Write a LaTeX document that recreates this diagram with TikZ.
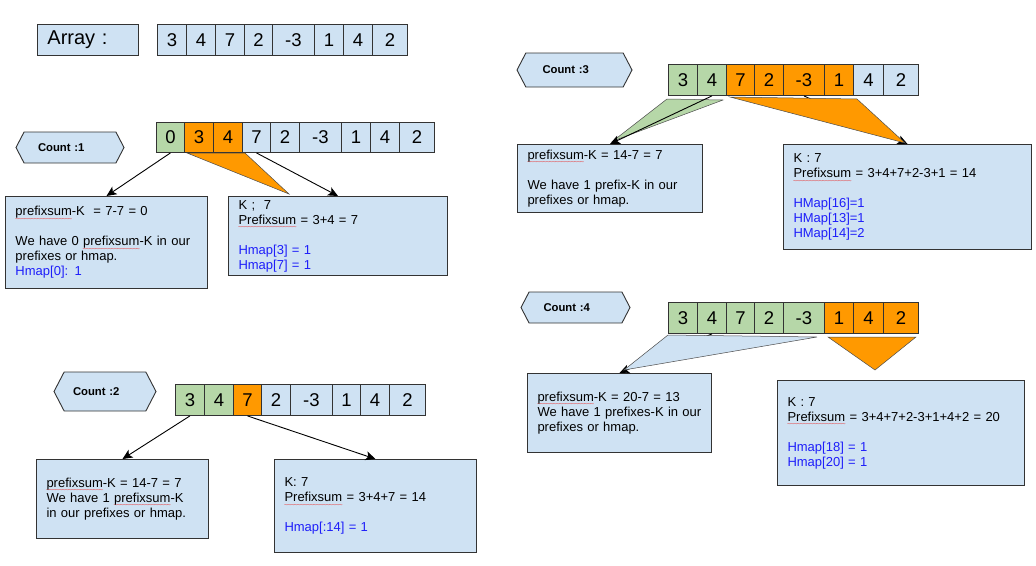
\documentclass[tikz,border=0pt]{standalone}
\usepackage{fontspec}
\setmainfont{Liberation Sans}
\usetikzlibrary{shapes.symbols,arrows.meta,calc}
\definecolor{cellBlue}{RGB}{207,226,243}
\definecolor{cellGreen}{RGB}{182,215,168}
\definecolor{cellOrange}{RGB}{255,153,0}
\definecolor{mapBlue}{RGB}{30,30,250}
\definecolor{wavyRed}{RGB}{230,70,70}
\newcommand{\spellmark}[1]{\leavevmode\setbox0=\hbox{#1}\rlap{\lower5.5pt\hbox to\wd0{\color{wavyRed}%
  \fontsize{7}{7}\selectfont\xleaders\hbox{\kern-0.5pt\char"7E\kern-0.5pt}\hfill}}\box0\relax}
\newcommand{\hmap}[1]{\textcolor{mapBlue}{#1}}
\tikzset{
  cell/.style={draw=black!80,line width=0.9pt,minimum height=31pt,minimum width=#1,
               inner sep=0pt,anchor=north west,font=\fontsize{18.5}{20}\selectfont},
  infobox/.style={draw=black!80,fill=cellBlue,line width=1pt,anchor=north west,
               align=left,inner xsep=10pt,inner ysep=0pt,font=\fontsize{13}{15}\selectfont},
  counthex/.style={signal,signal to=west and east,signal pointer angle=125,
               draw=black!80,fill=cellBlue,line width=0.9pt,text width=64pt,align=left,
               inner sep=0pt,font=\fontsize{11.3}{13}\selectfont\bfseries},
  arr/.style={-{Stealth[length=10pt,width=9pt,inset=2.5pt]},black,line width=0.9pt},
  wedge/.style={draw=black!70,line width=0.5pt},
}

\begin{document}
\begin{tikzpicture}[x=1pt,y=-1pt]
\useasboundingbox (0,0) rectangle (1036,565);

% input array
\node[cell=101pt,fill=cellBlue,font=\fontsize{20}{22}\selectfont,
      text width=81pt,align=left,inner xsep=10pt] (arrlbl) at (37,24) {Array :};
\foreach \x/\w/\v [count=\i] in {157/29/3,186/29/4,215/29/7,244/28/2,272/42/-3,
                                 314/29/1,343/29/4,372/35/2}
  \node[cell=\w pt,fill=cellBlue] (arr\i) at (\x,24) {\v};

% count 1
\node[counthex,minimum width=108pt,minimum height=31pt] (cnt1) at (70,147.5) {Count :1};
\foreach \x/\w/\v/\c [count=\i] in {156/28/0/cellGreen,184/29/3/cellOrange,213/29/4/cellOrange,
                                    242/28/7/cellBlue,270/29/2/cellBlue,299/42/-3/cellBlue,
                                    341/29/1/cellBlue,370/29/4/cellBlue,399/35/2/cellBlue}
  \node[cell=\w pt,fill=\c,minimum height=30pt] (one\i) at (\x,122) {\v};
\filldraw[wedge,fill=cellOrange] (187,153) -- (245,153) -- (289,194) -- cycle;
\node[infobox,minimum height=92pt,text width=182pt] (oneL) at (5,196)
  {\spellmark{prefixsum}-K\ \ = 7-7 = 0\\[15pt]
   We have 0 \spellmark{prefixsum}-K in our\\prefixes or hmap.\\
   \hmap{Hmap[0]: 1}};
\node[infobox,minimum height=79pt,text width=199pt] (oneR) at (228,196)
  {K ;\ \ 7\\\spellmark{Prefixsum} = 3+4 = 7\\[15pt]
   \hmap{Hmap[3] = 1}\\\hmap{Hmap[7] = 1}};
\draw[arr] (one1.south) -- (oneL.north);
\draw[arr] (one4.south) -- (oneR.north);

% count 2
\node[counthex,minimum width=102pt,minimum height=39pt] (cnt2) at (105,391.5) {Count :2};
\foreach \x/\w/\v/\c [count=\i] in {175/29/3/cellGreen,204/29/4/cellGreen,233/28/7/cellOrange,
                                    261/29/2/cellBlue,290/42/-3/cellBlue,332/28/1/cellBlue,
                                    360/29/4/cellBlue,389/36/2/cellBlue}
  \node[cell=\w pt,fill=\c] (two\i) at (\x,384) {\v};
\node[infobox,minimum height=79pt,text width=152pt] (twoL) at (36,459)
  {\spellmark{prefixsum}-K = 14-7 = 7\\We have 1 \spellmark{prefixsum}-K\\in our prefixes or hmap.};
\node[infobox,minimum height=93pt,text width=182pt] (twoR) at (274,459)
  {K: 7\\\spellmark{Prefixsum} = 3+4+7 = 14\\[15pt]\hmap{Hmap[:14] = 1}};
\draw[arr] (two1.south) -- (twoL.north);
\draw[arr] (two3.south) -- (twoR.north);

% count 3
\node[counthex,minimum width=115pt,minimum height=34pt] (cnt3) at (574.5,70) {Count :3};
\foreach \x/\w/\v/\c [count=\i] in {668/29/3/cellGreen,697/29/4/cellGreen,726/28/7/cellOrange,
                                    754/29/2/cellOrange,783/41/-3/cellOrange,824/29/1/cellOrange,
                                    853/30/4/cellBlue,883/35/2/cellBlue}
  \node[cell=\w pt,fill=\c] (three\i) at (\x,64) {\v};
\node[infobox,minimum height=68pt,text width=165pt] (threeL) at (517,144)
  {\spellmark{prefixsum}-K = 14-7 = 7\\[15pt]We have 1 prefix-K in our\\prefixes or hmap.};
\node[infobox,minimum height=105pt,text width=228pt] (threeR) at (783,144)
  {K : 7\\\spellmark{Prefixsum} = 3+4+7+2-3+1 = 14\\[15pt]
   \hmap{HMap[16]=1}\\\hmap{HMap[13]=1}\\\hmap{HMap[14]=2}};
\draw[arr] (three5.south) -- (threeR.north);
\filldraw[wedge,fill=cellOrange] (730,97) -- (857,99) -- (905,143) -- cycle;
\filldraw[wedge,fill=cellGreen] (667,99) -- (723,100) -- (613,141) -- cycle;
\draw[arr] (three2.south) -- (threeL.north);

% count 4
\node[counthex,minimum width=109pt,minimum height=31pt] (cnt4) at (575.5,307.5) {Count :4};
\foreach \x/\w/\v/\c [count=\i] in {668/29/3/cellGreen,697/29/4/cellGreen,726/28/7/cellGreen,
                                    754/29/2/cellGreen,783/41/-3/cellGreen,824/29/1/cellOrange,
                                    853/30/4/cellOrange,883/35/2/cellOrange}
  \node[cell=\w pt,fill=\c] (four\i) at (\x,302) {\v};
\node[infobox,minimum height=79pt,text width=164pt] (fourL) at (527,373)
  {\spellmark{prefixsum}-K = 20-7 = 13\\We have 1 prefixes-K in our\\prefixes or hmap.};
\node[infobox,minimum height=105pt,text width=227pt] (fourR) at (777,380)
  {K : 7\\\spellmark{Prefixsum} = 3+4+7+2-3+1+4+2 = 20\\[15pt]
   \hmap{Hmap[18] = 1}\\\hmap{Hmap[20] = 1}};
\draw[arr] (four2.south) -- (fourL.north);
\filldraw[wedge,fill=cellBlue] (668,335) -- (817,337) -- (624,370) -- cycle;
\filldraw[wedge,fill=cellOrange] (828,337) -- (916,337) -- (875,370) -- cycle;
\end{tikzpicture}
\end{document}
